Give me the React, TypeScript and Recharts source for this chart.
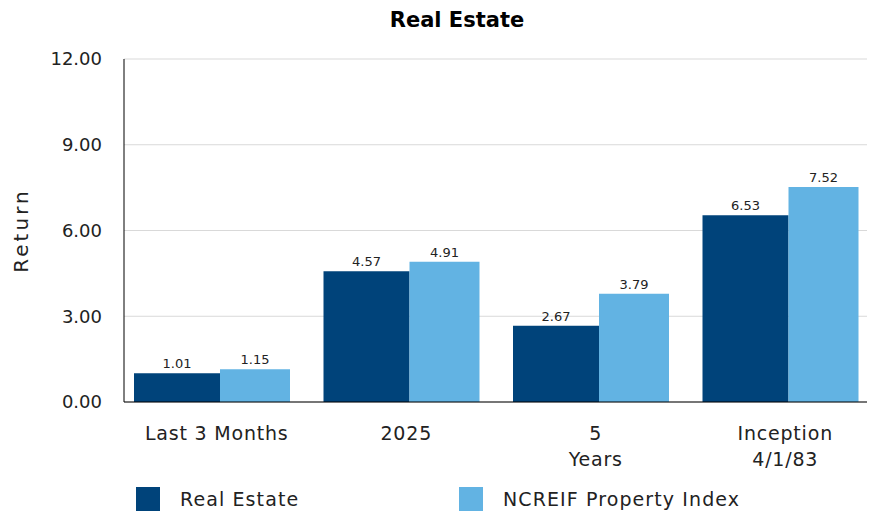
import React from 'react';
import { BarChart, Bar, XAxis, YAxis, CartesianGrid, LabelList, Legend, Label } from 'recharts';

const categories = ['Last 3 Months', '2025', '5\nYears', 'Inception\n4/1/83'];
const realEstate = [1.01, 4.57, 2.67, 6.53];
const ncreif = [1.15, 4.91, 3.79, 7.52];
const yTicks = [0, 3, 6, 9, 12];
const seriesNames = ['Real Estate', 'NCREIF Property Index'];
const seriesColors = ['#00437A', '#62B3E3'];

const data = categories.map((c, i) => ({ name: c, re: realEstate[i], nc: ncreif[i] }));

const FONT = '"DejaVu Sans", sans-serif';

const XTick = (props: any) => {
  const { x, y, payload } = props;
  const lines = String(payload.value).split('\n');
  return (
    <g>
      {lines.map((l: string, i: number) => (
        <text key={i} x={x + 5} y={y} dy={30 + i * 26} textAnchor="middle" fontSize={19} letterSpacing={0.8} fill="#222" fontFamily={FONT}>
          {l}
        </text>
      ))}
    </g>
  );
};

const LegendContent = () => (
  <div style={{ display: 'flex', paddingLeft: 128, paddingTop: 24, height: 49, boxSizing: 'border-box', fontFamily: FONT }}>
    {seriesNames.map((n, i) => (
      <div key={n} style={{ display: 'flex', alignItems: 'center', width: 323 }}>
        <div style={{ width: 24, height: 24, background: seriesColors[i], marginRight: 20 }} />
        <span style={{ fontSize: 19, letterSpacing: 1.1, color: '#222' }}>{n}</span>
      </div>
    ))}
  </div>
);

export default function App() {
  return (
    <div style={{ position: 'relative', width: 867, height: 510, fontFamily: FONT }}>
      <div style={{ position: 'absolute', left: 449 - 200, width: 400, top: 0, textAlign: 'center', fontWeight: 700, fontSize: 21, color: '#000', lineHeight: '24px', zIndex: 2 }}>
        Real Estate
      </div>
      <BarChart width={867} height={510} data={data} margin={{ top: 51, right: 0, left: 0, bottom: 7 }} barGap={0}>
        <CartesianGrid vertical={false} stroke="#D9D9D9" />
        <XAxis
          dataKey="name"
          height={60}
          padding={{ left: -7, right: 0 }}
          tickLine={false}
          axisLine={{ stroke: '#000' }}
          tick={<XTick />}
          interval={0}
        />
        <YAxis
          width={116}
          domain={[0, 12]}
          ticks={yTicks}
          tickFormatter={(v: number) => v.toFixed(2)}
          tickLine={false}
          tickMargin={16}
          axisLine={{ stroke: '#000' }}
          tick={{ fontSize: 18, fill: '#222', fontFamily: FONT }}
        >
          <Label value="Return" angle={-90} position="insideLeft" offset={13} style={{ textAnchor: 'middle', fontSize: 20, letterSpacing: 3, fill: '#222', fontFamily: FONT }} />
        </YAxis>
        <Legend verticalAlign="bottom" content={<LegendContent />} wrapperStyle={{ left: 0, width: 867, height: 49 }} />
        <Bar dataKey="re" name={seriesNames[0]} fill={seriesColors[0]} barSize={86} isAnimationActive={false}>
          <LabelList dataKey="re" position="top" offset={5} fontSize={13} fill="#222" fontFamily={FONT} formatter={(v: number) => v.toFixed(2)} />
        </Bar>
        <Bar dataKey="nc" name={seriesNames[1]} fill={seriesColors[1]} barSize={70} isAnimationActive={false}>
          <LabelList dataKey="nc" position="top" offset={5} fontSize={13} fill="#222" fontFamily={FONT} formatter={(v: number) => v.toFixed(2)} />
        </Bar>
      </BarChart>
    </div>
  );
}
